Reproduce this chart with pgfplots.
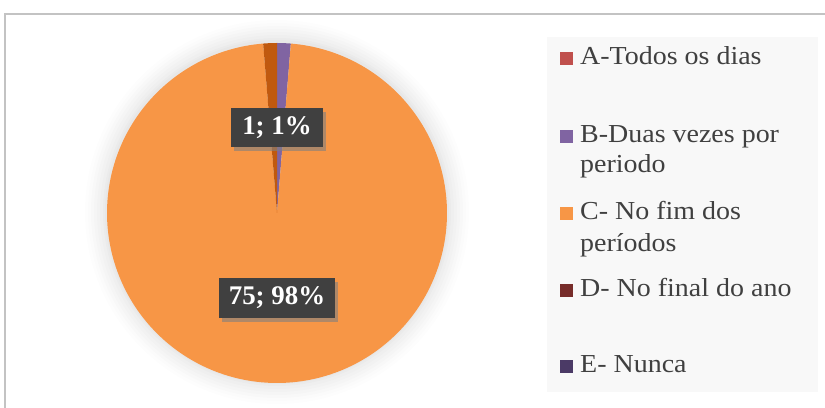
\documentclass[border=0pt]{standalone}
\usepackage{pgfplots}
\pgfplotsset{compat=1.18}
\usepackage{fontspec}
\setmainfont{Liberation Serif}
\newfontfamily\legfont[FakeStretch=1.08]{Liberation Serif}
\usetikzlibrary{shadows}
\definecolor{cA}{HTML}{C0504D}
\definecolor{cB}{HTML}{8064A2}
\definecolor{cC}{HTML}{F79646}
\definecolor{cD}{HTML}{772C2A}
\definecolor{cDpie}{HTML}{C0590F}
\definecolor{cE}{HTML}{4B3A66}
\definecolor{frame}{HTML}{C3C3C3}
\definecolor{legbg}{HTML}{F8F8F8}
\definecolor{lblbg}{HTML}{404040}
\begin{document}
\begin{tikzpicture}
% values: A=0, B=1, C=75, D=1, E=0
\pgfmathsetmacro{\tot}{0+1+75+1+0}
\pgfmathsetmacro{\aB}{90-360/\tot*1}
\pgfmathsetmacro{\aC}{\aB-360/\tot*75}
\pgfmathsetmacro{\aD}{\aC-360/\tot*1}
\begin{axis}[width=825bp,height=408bp,scale only axis,
  xmin=0,xmax=825,ymin=0,ymax=408,hide axis,clip=false]
\coordinate (BL) at (axis cs:0,0);
\coordinate (TR) at (axis cs:825,408);
% outer frame
\draw[color=frame, line width=2.2bp] (axis cs:5,-20) -- (axis cs:5,394) -- (axis cs:850,394);
% legend background
\fill[color=legbg] (axis cs:547,371) rectangle (axis cs:818,16);
% soft shadow around pie
\fill[black, opacity=0.008] (axis cs:277,196) circle[radius=192bp];
\fill[black, opacity=0.008] (axis cs:277,196) circle[radius=189bp];
\fill[black, opacity=0.01] (axis cs:277,196) circle[radius=186bp];
\fill[black, opacity=0.01] (axis cs:277,196) circle[radius=183bp];
\fill[black, opacity=0.012] (axis cs:277,196) circle[radius=180bp];
\fill[black, opacity=0.012] (axis cs:277,196) circle[radius=177bp];
\fill[black, opacity=0.015] (axis cs:277,196) circle[radius=174bp];
\fill[black, opacity=0.015] (axis cs:277,196) circle[radius=172bp];
% pie wedges
\addplot[fill=cB, draw=none, domain=\aB:90, samples=20, variable=\t]
  ({277+170*cos(\t)},{195+170*sin(\t)}) -- (axis cs:277,195) -- cycle;
\addplot[fill=cC, draw=none, domain=\aC:\aB, samples=240, variable=\t]
  ({277+170*cos(\t)},{195+170*sin(\t)}) -- (axis cs:277,195) -- cycle;
\addplot[fill=cDpie, draw=none, domain=\aD:\aC, samples=20, variable=\t]
  ({277+170*cos(\t)},{195+170*sin(\t)}) -- (axis cs:277,195) -- cycle;
% data labels
\node[fill=lblbg, text=white, font=\fontsize{27}{30}\selectfont\bfseries,
  minimum height=39bp, inner xsep=11bp, inner ysep=0pt,
  drop shadow={opacity=0.6, shadow xshift=3bp, shadow yshift=-4bp}]
  at (axis cs:277,280) {1; 1\%};
\node[fill=lblbg, text=white, font=\fontsize{27}{30}\selectfont\bfseries,
  minimum height=40bp, inner xsep=10bp, inner ysep=0pt,
  drop shadow={opacity=0.6, shadow xshift=3bp, shadow yshift=-4bp}]
  at (axis cs:277,110) {75; 98\%};
% legend
\fill[cA] (axis cs:560,343) rectangle (axis cs:573,356);
\fill[cB] (axis cs:560,265) rectangle (axis cs:573,278);
\fill[cC] (axis cs:560,188) rectangle (axis cs:573,201);
\fill[cD] (axis cs:560,111) rectangle (axis cs:573,124);
\fill[cE] (axis cs:560,35) rectangle (axis cs:573,48);
\begin{scope}[every node/.style={anchor=base west, inner sep=0pt, text=black!75,
  font=\legfont\fontsize{26}{30}\selectfont}]
\node at (axis cs:580,343) {A-Todos os dias};
\node at (axis cs:580,265) {B-Duas vezes por};
\node at (axis cs:580,235) {periodo};
\node at (axis cs:580,188) {C- No fim dos};
\node at (axis cs:580,156) {períodos};
\node at (axis cs:580,111) {D- No final do ano};
\node at (axis cs:580,35) {E- Nunca};
\end{scope}
\end{axis}
\pgfresetboundingbox
\useasboundingbox (BL) rectangle (TR);
\end{tikzpicture}
\end{document}
